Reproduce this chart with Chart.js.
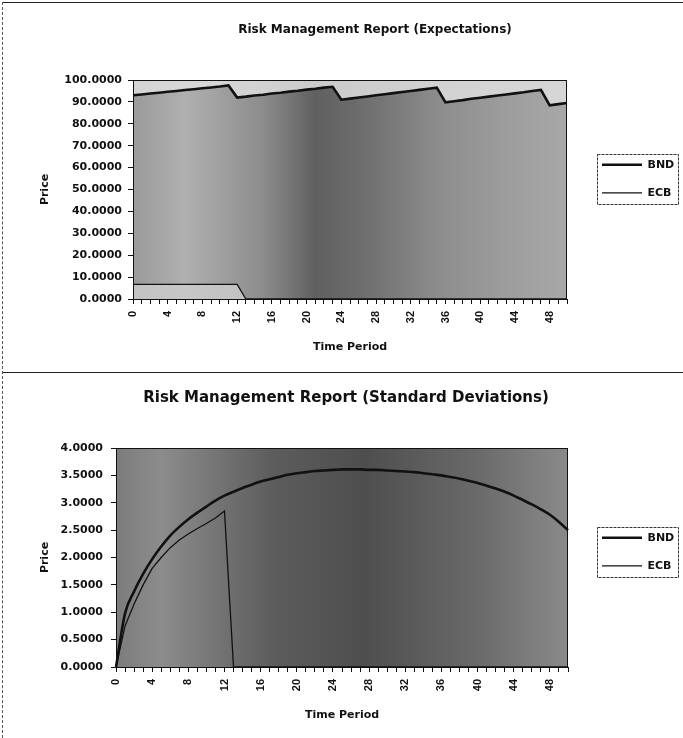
<!DOCTYPE html>
<html>
<head>
<meta charset="utf-8">
<script src="https://cdn.jsdelivr.net/npm/chart.js@4.4.1/dist/chart.umd.min.js"></script>
<style>
  body { margin: 0; background: #fff; }
  .wrap { position: absolute; left: 0; width: 683px; }
  #topWrap { top: 0; height: 372px; }
  #bottomWrap { top: 372px; height: 366px; }
  .rule { position: absolute; background: #222; height: 1px; }
  .side { position: absolute; left: 2px; top: 2px; height: 736px; border-left: 1px dashed #555; }
</style>
</head>
<body>
<div class="wrap" id="topWrap"><canvas id="expChart" width="683" height="372"></canvas></div>
<div class="wrap" id="bottomWrap"><canvas id="sdChart" width="683" height="366"></canvas></div>
<div class="rule" style="left:2px;top:2px;width:681px"></div>
<div class="rule" style="left:2px;top:372px;width:681px"></div>
<div class="side"></div>
<script>
const periods = [0, 1, 2, 3, 4, 5, 6, 7, 8, 9, 10, 11, 12, 13, 14, 15, 16, 17, 18, 19, 20,
    21, 22, 23, 24, 25, 26, 27, 28, 29, 30, 31, 32, 33, 34, 35, 36, 37, 38, 39, 40,
    41, 42, 43, 44, 45, 46, 47, 48, 49, 50];
const shownPeriods = [0, 4, 8, 12, 16, 20, 24, 28, 32, 36, 40, 44, 48];
const seriesNames = ['BND', 'ECB'];

// expectations (top chart)
const bndExpect = [93.0, 93.4, 93.8, 94.2, 94.6, 95.0, 95.4, 95.8, 96.2, 96.6, 97.0, 97.5,
    92.0, 92.4, 92.9, 93.3, 93.8, 94.2, 94.7, 95.1, 95.6, 96.0, 96.5, 96.9,
    91.0, 91.5, 92.0, 92.5, 93.0, 93.5, 94.0, 94.5, 95.0, 95.5, 96.0, 96.5,
    89.8, 90.3, 90.8, 91.4, 91.9, 92.4, 92.9, 93.4, 93.9, 94.4, 95.0, 95.5,
    88.4, 89.0, 89.5];
const ecbExpect = [6.7, 6.7, 6.7, 6.7, 6.7, 6.7, 6.7, 6.7, 6.7, 6.7, 6.7, 6.7, 6.7,
    0, 0, 0, 0, 0, 0, 0, 0, 0, 0, 0, 0, 0, 0, 0, 0, 0, 0, 0, 0, 0, 0, 0, 0, 0,
    0, 0, 0, 0, 0, 0, 0, 0, 0, 0, 0, 0, 0];

// standard deviations (bottom chart)
const bndStdDev = [0.00, 0.98, 1.38, 1.70, 1.97, 2.20, 2.40, 2.56, 2.70, 2.82, 2.93,
    3.04, 3.13, 3.20, 3.27, 3.33, 3.39, 3.43, 3.47, 3.51, 3.54,
    3.56, 3.58, 3.59, 3.60, 3.61, 3.61, 3.61, 3.60, 3.60, 3.59,
    3.58, 3.57, 3.56, 3.54, 3.52, 3.50, 3.47, 3.44, 3.40, 3.36,
    3.31, 3.26, 3.20, 3.13, 3.05, 2.97, 2.88, 2.78, 2.65, 2.50];
const ecbStdDev = [0.00, 0.75, 1.15, 1.50, 1.80, 2.00, 2.18, 2.32, 2.43, 2.53, 2.62, 2.72, 2.85,
    0, 0, 0, 0, 0, 0, 0, 0, 0, 0, 0, 0, 0, 0, 0, 0, 0, 0, 0, 0, 0, 0, 0, 0, 0,
    0, 0, 0, 0, 0, 0, 0, 0, 0, 0, 0, 0, 0];

const wideFont = 'DejaVu Sans';
const narrowFont = 'Liberation Sans, Arial, sans-serif';

// grey scanned plot area, legend box, plus some nudges of title / legend
const reportFrame = {
    id: 'reportFrame',
    beforeLayout(chart, args, opts) {
        const lg = chart.legend;
        if (lg && !lg._fixedWidth) {
            const fit = lg.fit;
            lg.fit = function() {
                fit.call(this);
                this.width = opts.legendSpace;
            };
            lg._fixedWidth = true;
        }
    },
    afterLayout(chart, args, opts) {
        const t = chart.titleBlock;
        t.left += opts.titleShift;
        t.right += opts.titleShift;
        const lg = chart.legend;
        const w = lg.right - lg.left;
        lg.left = opts.legendLeft;
        lg.right = lg.left + w;
        lg.top += opts.legendShiftY;
        lg.bottom += opts.legendShiftY;
    },
    beforeDraw(chart, args, opts) {
        const a = chart.chartArea;
        const ctx = chart.ctx;
        const g = ctx.createLinearGradient(a.left, 0, a.right, 0);
        opts.shade.forEach(s => g.addColorStop(s[0], s[1]));
        ctx.save();
        ctx.fillStyle = g;
        ctx.fillRect(a.left, a.top, a.right - a.left, a.bottom - a.top);
        ctx.restore();
    },
    afterDraw(chart) {
        const a = chart.chartArea;
        const ctx = chart.ctx;
        ctx.save();
        ctx.strokeStyle = '#111';
        ctx.lineWidth = 1;
        ctx.strokeRect(a.left + 0.5, a.top + 0.5, a.right - a.left - 1, a.bottom - a.top);
        const boxes = chart.legend.legendHitBoxes;
        if (boxes && boxes.length) {
            const l = Math.min(...boxes.map(b => b.left)) - 5;
            const t = Math.min(...boxes.map(b => b.top)) - 5;
            const r = Math.max(...boxes.map(b => b.left + b.width)) + 4;
            const btm = Math.max(...boxes.map(b => b.top + b.height)) + 6;
            ctx.strokeStyle = '#333';
            ctx.setLineDash([3, 1]);
            ctx.strokeRect(Math.round(l) + 0.5, Math.round(t) + 0.5, Math.round(r - l), Math.round(btm - t));
        }
        ctx.restore();
    }
};

function makeChart(id, cfg) {
    const ctx = document.getElementById(id).getContext('2d');
    return new Chart(ctx, {
        type: 'line',
        data: {
            labels: periods,
            datasets: [{
                label: seriesNames[0],
                data: cfg.bnd,
                borderColor: '#111',
                borderWidth: 2.6,
                pointRadius: 0,
                tension: 0,
                cubicInterpolationMode: cfg.smooth ? 'monotone' : 'default',
                fill: cfg.bndFill ? 'end' : false,
                backgroundColor: cfg.bndFill || 'transparent'
            }, {
                label: seriesNames[1],
                data: cfg.ecb,
                borderColor: '#111',
                borderWidth: 1.3,
                pointRadius: 0,
                tension: 0,
                fill: cfg.ecbFill ? 'origin' : false,
                backgroundColor: cfg.ecbFill || 'transparent'
            }]
        },
        options: {
            responsive: false,
            animation: false,
            layout: { padding: { left: 35, right: 0, top: 0, bottom: cfg.padBottom } },
            scales: {
                x: {
                    type: 'category',
                    offset: false,
                    afterFit: s => { s.height = 58.6; },
                    grid: { drawOnChartArea: false, offset: false, tickLength: 5, color: '#111' },
                    border: { display: true, color: '#111', width: 1 },
                    ticks: {
                        autoSkip: false,
                        minRotation: 90,
                        maxRotation: 90,
                        padding: 7,
                        color: '#111',
                        font: { family: narrowFont, size: 11, weight: 'bold' },
                        callback: function(val) {
                            const p = this.getLabelForValue(val);
                            return shownPeriods.includes(p) ? String(p) : '';
                        }
                    },
                    title: {
                        display: true,
                        text: 'Time Period',
                        color: '#111',
                        font: { family: wideFont, size: 11, weight: 'bold' }
                    }
                },
                y: {
                    min: cfg.yMin,
                    max: cfg.yMax,
                    afterFit: s => { s.width = cfg.yWidth; },
                    grid: { drawOnChartArea: false, tickLength: 5, color: '#111' },
                    border: { display: true, color: '#111', width: 1 },
                    ticks: {
                        stepSize: cfg.yStep,
                        padding: cfg.yPad,
                        color: '#111',
                        font: { family: wideFont, size: 11, weight: 'bold' },
                        callback: v => Number(v).toFixed(4)
                    },
                    title: {
                        display: true,
                        text: 'Price',
                        color: '#111',
                        font: { family: wideFont, size: 11, weight: 'bold' }
                    }
                }
            },
            plugins: {
                title: {
                    display: true,
                    text: cfg.title,
                    color: '#111',
                    font: { family: wideFont, size: cfg.titleSize, weight: 'bold' },
                    padding: { top: cfg.titleTop, bottom: cfg.titleBottom }
                },
                legend: {
                    position: 'right',
                    labels: {
                        usePointStyle: true,
                        pointStyle: 'line',
                        pointStyleWidth: 40,
                        padding: 17,
                        color: '#111',
                        font: { family: wideFont, size: 11, weight: 'bold' }
                    }
                },
                tooltip: { enabled: false },
                reportFrame: {
                    legendSpace: cfg.legendSpace,
                    legendLeft: 585,
                    legendShiftY: cfg.legendShiftY,
                    titleShift: cfg.titleShift,
                    shade: cfg.shade
                }
            }
        },
        plugins: [reportFrame]
    });
}

makeChart('expChart', {
    bnd: bndExpect,
    ecb: ecbExpect,
    smooth: false,
    bndFill: 'rgba(222,222,222,0.85)',
    ecbFill: 'rgba(205,205,205,0.8)',
    title: 'Risk Management Report (Expectations)',
    titleSize: 12,
    titleTop: 22.8,
    titleBottom: 42.8,
    titleShift: 16,
    padBottom: 14.4,
    yMin: 0, yMax: 100, yStep: 10,
    yWidth: 98, yPad: 6,
    legendSpace: 116,
    legendShiftY: 0,
    shade: [[0, '#9a9a9a'], [0.12, '#b0b0b0'], [0.3, '#8c8c8c'], [0.42, '#606060'],
        [0.52, '#6c6c6c'], [0.7, '#8c8c8c'], [0.85, '#9c9c9c'], [1, '#a8a8a8']]
});

makeChart('sdChart', {
    bnd: bndStdDev,
    ecb: ecbStdDev,
    smooth: true,
    bndFill: null,
    ecbFill: null,
    title: 'Risk Management Report (Standard Deviations)',
    titleSize: 15,
    titleTop: 17,
    titleBottom: 41,
    titleShift: -13,
    padBottom: 12.4,
    yMin: 0, yMax: 4, yStep: 0.5,
    yWidth: 81, yPad: 8,
    legendSpace: 115,
    legendShiftY: 3,
    shade: [[0, '#7c7c7c'], [0.1, '#8c8c8c'], [0.35, '#5c5c5c'], [0.55, '#4e4e4e'],
        [0.8, '#6a6a6a'], [1, '#8a8a8a']]
});
</script>
</body>
</html>
